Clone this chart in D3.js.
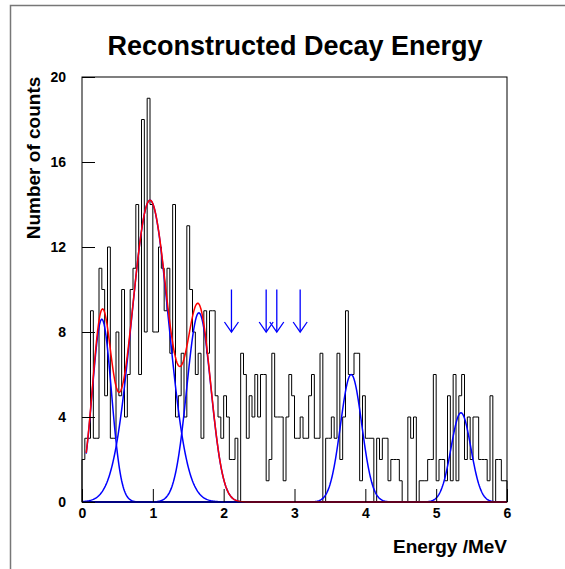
<!DOCTYPE html>
<html>
<head>
<meta charset="utf-8">
<script src="https://cdn.jsdelivr.net/npm/d3@7"></script>
<style>
body { margin: 0; background: #fff; }
text { font-family: "Liberation Sans", Arial, sans-serif; font-weight: bold; fill: #000; }
</style>
</head>
<body>
<div id="chart-area"></div>
<script>
// histogram: 150 bins of 0.04 MeV between 0 and 6 MeV
const binLow = 0, binHigh = 6
const counts = [
  2, 3, 3, 9, 3, 3, 11, 10, 5, 12, 3, 3, 8, 5, 10, 4, 6, 10, 11, 14,
  6, 18, 8, 19, 14, 8, 8, 12, 11, 9, 11, 7, 14, 4, 5, 7, 4, 13, 10, 8,
  6, 7, 3, 9, 7, 9, 9, 5, 4, 3, 5, 4, 2, 2, 3, 0, 7, 6, 3, 5,
  4, 6, 4, 6, 6, 1, 2, 7, 4, 4, 4, 1, 4, 6, 5, 3, 3, 4, 3, 3,
  5, 6, 3, 3, 7, 0, 3, 3, 4, 3, 7, 2, 4, 9, 6, 6, 7, 7, 1, 5,
  3, 3, 3, 0, 3, 2, 3, 3, 1, 2, 2, 2, 1, 0, 0, 4, 3, 4, 0, 1,
  1, 1, 2, 2, 6, 1, 2, 2, 1, 5, 1, 6, 1, 5, 6, 2, 4, 2, 4, 4,
  2, 2, 2, 1, 5, 0, 2, 2, 1, 1
]

// fitted gaussian peaks (MeV, counts, MeV)
const peakMeans   = [0.28, 0.96, 1.65, 3.80, 5.35]
const peakHeights = [8.6, 14.2, 8.9, 6.0, 4.2]
const peakSigmas  = [0.135, 0.26, 0.17, 0.15, 0.14]
const peakStart   = [0.06, 0, 0, 0, 0]
const sumPeaks = [0, 1, 2]      // red curve = sum of these three
const sumStart = 0.06

// arrows marking expected levels (MeV)
const arrowEnergies = [2.11, 2.60, 2.75, 3.08]
const arrowFrom = 10, arrowTo = 8

const xTicks = [0, 1, 2, 3, 4, 5, 6]
const yTicks = [0, 4, 8, 12, 16, 20]

const margin = {top: 77, left: 82},
    width = 425,
    height = 425

var svg = d3.select("#chart-area")
    .append("svg")
    .attr("width", 565)
    .attr("height", 569)

// pad border
svg.append("rect")
    .attr("x", 10.5).attr("y", 5.5)
    .attr("width", 600).attr("height", 600)
    .attr("fill", "none")
    .attr("stroke", "#777")
    .attr("stroke-width", 1.5)

var g = svg.append("g")
    .attr("transform", `translate(${margin.left}, ${margin.top})`)

var x = d3.scaleLinear().domain([binLow, binHigh]).range([0, width])
var y = d3.scaleLinear().domain([0, 20]).range([height, 0])

// histogram outline
const binWidth = (binHigh - binLow) / counts.length
var pts = [[binLow, 0]]
counts.forEach((c, i) => pts.push([binLow + i * binWidth, c]))
pts.push([binHigh, 0])

g.append("path")
    .datum(pts)
    .attr("fill", "none")
    .attr("stroke", "#000")
    .attr("stroke-width", 1)
    .attr("d", d3.line().curve(d3.curveStepAfter)
        .x(d => x(d[0]))
        .y(d => y(d[1])))

function gauss(k, e) {
    return peakHeights[k] * Math.exp(-0.5 * Math.pow((e - peakMeans[k]) / peakSigmas[k], 2))
}

var curve = d3.line().x(d => x(d[0])).y(d => y(d[1]))

// individual peaks
peakMeans.forEach(function (m, k) {
    var es = d3.range(peakStart[k], binHigh + 1e-9, 0.01)
    g.append("path")
        .datum(es.map(e => [e, gauss(k, e)]))
        .attr("fill", "none")
        .attr("stroke", "#0000ff")
        .attr("stroke-width", 1.5)
        .attr("d", curve)
})

// total fit of the low-energy peaks
var es = d3.range(sumStart, binHigh + 1e-9, 0.01)
g.append("path")
    .datum(es.map(e => [e, d3.sum(sumPeaks, k => gauss(k, e))]))
    .attr("fill", "none")
    .attr("stroke", "#ff0000")
    .attr("stroke-width", 1.5)
    .attr("d", curve)

// arrows
var arrows = g.selectAll(".arrow").data(arrowEnergies).enter().append("g")
    .attr("class", "arrow")
    .attr("stroke", "#0000ff")
    .attr("stroke-width", 1.3)
    .attr("fill", "none")
arrows.append("line")
    .attr("x1", d => x(d)).attr("x2", d => x(d))
    .attr("y1", y(arrowFrom)).attr("y2", y(arrowTo))
arrows.append("path")
    .attr("d", d => `M${x(d) - 7},${y(arrowTo) - 10}L${x(d)},${y(arrowTo)}L${x(d) + 7},${y(arrowTo) - 10}`)

// axes
var xAxis = g.append("g")
    .attr("transform", `translate(0, ${height})`)
    .call(d3.axisBottom(x).tickValues(xTicks).tickFormat(d3.format("d"))
        .tickSizeInner(-13).tickSizeOuter(0).tickPadding(6))
var yAxis = g.append("g")
    .call(d3.axisLeft(y).tickValues(yTicks).tickFormat(d3.format("d"))
        .tickSizeInner(-13).tickSizeOuter(0).tickPadding(16))
g.selectAll(".domain").remove()
g.selectAll(".tick line").attr("stroke", "#000")
g.selectAll(".tick text")
    .style("font-size", "14px")
    .style("font-family", "'Liberation Sans', Arial, sans-serif")
    .style("font-weight", "bold")
    .attr("fill", "#000")

// frame
g.append("rect")
    .attr("width", width).attr("height", height)
    .attr("fill", "none")
    .attr("stroke", "#000")
    .attr("stroke-width", 1)

// titles
svg.append("text")
    .attr("x", 295).attr("y", 55)
    .attr("text-anchor", "middle")
    .style("font-size", "27px")
    .text("Reconstructed Decay Energy")

svg.append("text")
    .attr("transform", "translate(40, 158) rotate(-90)")
    .attr("text-anchor", "middle")
    .style("font-size", "19px")
    .text("Number of counts")

svg.append("text")
    .attr("x", 507).attr("y", 553)
    .attr("text-anchor", "end")
    .style("font-size", "19px")
    .text("Energy /MeV")
</script>
</body>
</html>
